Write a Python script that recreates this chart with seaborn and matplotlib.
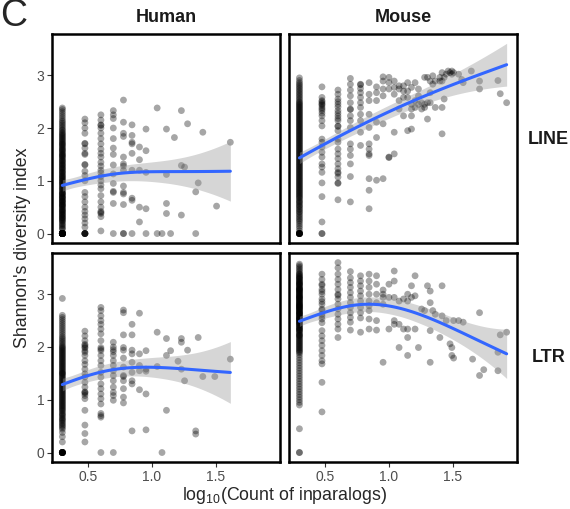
import numpy as np
import pandas as pd
import matplotlib
matplotlib.use("Agg")
import matplotlib.pyplot as plt
import seaborn as sns

# Shannon diversity per gene family, keyed by the number of inparalogs
HUMAN_LINE = {
    2: [0, 0, 0, 0, 0, 0, 0, 0, 0, 0, 0, 0, 0, 0, 0, 0, 0, 0, 0, 0, 0, 0,
        0, 0, 0, 0, 0, 0,
        0.08, 0.1, 0.12, 0.15, 0.17, 0.19, 0.22, 0.24, 0.25, 0.27, 0.29, 0.3,
        0.31, 0.33, 0.35, 0.36, 0.37, 0.39, 0.41, 0.42, 0.43, 0.45, 0.46, 0.48,
        0.5, 0.51, 0.53, 0.54, 0.55, 0.56, 0.58, 0.6, 0.61, 0.62, 0.63, 0.65,
        0.67, 0.68, 0.69, 0.7, 0.72, 0.74, 0.75, 0.76, 0.77, 0.79, 0.81, 0.83,
        0.85, 0.86, 0.88, 0.9, 0.92, 0.94, 0.95, 0.97, 0.99, 1.0,
        1.02, 1.04, 1.05, 1.07, 1.09, 1.1, 1.12, 1.14, 1.16, 1.17, 1.19, 1.21,
        1.23, 1.24, 1.26, 1.28, 1.3, 1.31, 1.33, 1.35, 1.37, 1.38, 1.4, 1.42,
        1.44, 1.46, 1.47, 1.49, 1.5, 1.52, 1.54, 1.56, 1.58, 1.59, 1.61, 1.63,
        1.65, 1.67, 1.69, 1.7, 1.72, 1.74, 1.76, 1.78, 1.8, 1.82, 1.84, 1.86,
        1.88, 1.9, 1.92, 1.95, 1.97, 2.0, 2.03, 2.06, 2.09, 2.12, 2.15, 2.19,
        2.23, 2.27, 2.31, 2.35, 2.38],
    3: [0, 0, 0, 0, 0, 0, 0.12, 0.2, 0.28, 0.35, 0.42, 0.5, 0.6, 0.7, 0.78,
        1.0, 1.1, 1.18, 1.3, 1.31, 1.5, 1.52, 1.62, 1.7, 1.71, 1.9, 2.0, 2.1,
        2.17],
    4: [0.05, 0.32, 0.38, 0.4, 0.42, 0.5, 0.6, 0.72, 0.85, 0.92, 1.0, 1.08,
        1.15, 1.2, 1.28, 1.35, 1.45, 1.52, 1.6, 1.7, 1.8, 1.9, 2.0, 2.05,
        2.06, 2.15, 2.25],
    5: [2.33, 2.25, 2.18, 2.0, 1.8, 1.62, 1.5, 1.3, 1.13, 0.95, 0.8, 0.78,
        0.57, 0],
    6: [2.53, 2.11, 1.9, 1.84, 1.45, 1.32, 1.28, 1.2, 0.9, 0.78, 0.75, 0.55,
        0, 0],
    7: [2.06, 1.86, 1.73, 1.7, 1.52, 1.2, 0.67, 0.63, 0],
    8: [1.64, 1.4, 1.2, 0.5, 0.22],
    9: [1.98, 1.57, 1.16, 0.47, 0],
    11: [2.38, 0],
    12: [0],
    13: [1.98, 1.12, 0.57, 0.38],
    14: [0],
    15: [1.82],
    17: [2.33, 1.29, 0.35],
    18: [1.26],
    19: [2.08],
    22: [0.79, 0],
    23: [0.96],
    25: [1.92],
    32: [0.52],
    41: [1.73],
}

HUMAN_LTR = {
    2: [0, 0, 0, 0, 0, 0, 0, 0, 0, 0, 0, 0, 0.2, 0.3, 0.38, 0.44, 0.47, 0.5,
        0.52, 0.55, 0.57, 0.6, 0.62, 0.64, 0.66, 0.69, 0.71, 0.73, 0.75, 0.78,
        0.8, 0.82, 0.84, 0.86, 0.88, 0.9, 0.92, 0.94, 0.96, 0.98, 1.0, 1.02,
        1.04, 1.06, 1.08, 1.1, 1.12, 1.14, 1.16, 1.18, 1.2, 1.22, 1.24, 1.26,
        1.28, 1.3, 1.32, 1.34, 1.36, 1.38, 1.4, 1.42, 1.44, 1.46, 1.48, 1.5,
        1.5, 1.52, 1.54, 1.56, 1.58, 1.6, 1.62, 1.64, 1.66, 1.68, 1.7, 1.72,
        1.74, 1.76, 1.78, 1.8, 1.82, 1.84, 1.86, 1.88, 1.9, 1.92, 1.94, 1.96,
        1.98, 2.0, 2.02, 2.05, 2.08, 2.11, 2.14, 2.17, 2.2, 2.24, 2.28, 2.32,
        2.36, 2.4, 2.44, 2.48, 2.52, 2.56, 2.6, 2.92],
    3: [2.3, 2.21, 2.12, 2.05, 2.03, 2.0, 1.98, 1.93, 1.9, 1.84, 1.74, 1.67,
        1.58, 1.49, 1.43, 1.33, 1.24, 1.15, 1.14, 1.12, 1.08, 1.02, 0.8, 0.52,
        0.36, 0.2],
    4: [2.75, 2.69, 2.59, 2.5, 2.43, 2.34, 2.25, 2.12, 1.99, 1.96, 1.93, 1.84,
        1.74, 1.65, 1.52, 1.43, 1.3, 1.21, 1.11, 1.02, 0.92, 0.74, 0.7, 0.67,
        0],
    5: [2.09, 2.0, 1.95, 1.91, 1.84, 1.74, 1.65, 1.55, 1.46, 1.36, 1.24, 1.14,
        1.08, 0.99, 0],
    6: [2.7, 2.65, 2.23, 1.99, 1.94, 1.79, 1.62, 1.46, 1.44, 1.36, 1.21, 1.05,
        0.94],
    7: [2.43, 2.23, 1.94, 1.87, 1.71, 1.52, 1.36, 1.3, 0.41],
    8: [2.64, 1.87, 1.65, 1.55, 1.19],
    9: [1.93, 1.58, 1.54, 1.11, 0.43],
    11: [2.28, 1.63],
    12: [0],
    13: [2.16, 1.84, 0.8],
    14: [1.93],
    16: [1.73],
    17: [2.16, 2.09, 1.58],
    18: [1.36],
    19: [1.94],
    22: [0.41, 0.35],
    23: [2.18],
    25: [1.44],
    31: [1.44],
    41: [1.77],
}

MOUSE_LINE = {
    2: [0, 0, 0, 0, 0, 0, 0, 0, 0, 0.05, 0.1, 0.14, 0.18, 0.22,
        0.25, 0.28, 0.31, 0.34, 0.37, 0.4, 0.42, 0.45, 0.47, 0.5, 0.52, 0.54,
        0.57, 0.59, 0.61, 0.63, 0.66, 0.68, 0.7, 0.72, 0.74, 0.76, 0.78, 0.8,
        0.82, 0.84, 0.86, 0.88, 0.9, 0.92, 0.94, 0.96, 0.98, 1.0, 1.02, 1.04,
        1.06, 1.08, 1.1, 1.12, 1.14, 1.16, 1.18, 1.2, 1.22, 1.24, 1.26, 1.28,
        1.3, 1.32, 1.34, 1.36, 1.38, 1.4, 1.42, 1.44, 1.46, 1.48, 1.5, 1.52,
        1.54, 1.56, 1.58, 1.6, 1.62, 1.64, 1.66, 1.68, 1.7, 1.72, 1.74, 1.76,
        1.78, 1.8, 1.82, 1.84, 1.86, 1.88, 1.9, 1.92, 1.94, 1.96, 1.98, 2.0,
        2.02, 2.04, 2.06, 2.08, 2.1, 2.12, 2.14, 2.16, 2.18, 2.2, 2.22, 2.24,
        2.26, 2.28, 2.3, 2.32, 2.34, 2.36, 2.38, 2.4, 2.42, 2.44, 2.46, 2.48,
        2.5, 2.53, 2.56, 2.59, 2.62, 2.65, 2.68, 2.71, 2.74, 2.77, 2.8, 2.83,
        2.86, 2.9, 2.95],
    3: [2.78, 2.58, 2.52, 2.5, 2.47, 2.45, 2.43, 2.39, 2.36, 2.33, 2.28, 2.23,
        2.14, 2.04, 1.79, 1.73, 1.64, 1.54, 1.45, 1.32, 1.26, 1.16, 0.96, 0.7,
        0.22, 0, 0],
    4: [2.72, 2.64, 2.55, 2.5, 2.45, 2.4, 2.33, 2.28, 2.23, 2.18, 2.14, 2.04,
        2.03, 1.95, 1.79, 1.73, 1.6, 1.51, 1.42, 1.32, 1.23, 1.16, 1.14, 1.07,
        0.96, 0.95, 0.64],
    5: [2.94, 2.83, 2.72, 2.61, 2.48, 2.36, 2.35, 2.23, 2.14, 2.01, 1.7, 1.6,
        1.48, 1.32, 1.08, 0.6],
    6: [2.83, 2.82, 2.75, 2.67, 2.58, 2.48, 2.39, 2.26, 2.14, 1.92, 1.67],
    7: [2.86, 2.64, 2.52, 2.26, 2.01, 1.7, 1.6, 1.51, 1.48, 1.04, 0.82, 0.47],
    8: [2.78, 2.67, 2.52, 2.11, 1.82, 1.01],
    9: [2.97, 2.89, 2.74, 2.61, 2.08, 1.04],
    10: [2.96, 2.86, 2.74, 1.45, 1.44],
    11: [2.89, 2.77, 2.64, 1.92, 1.51],
    12: [2.8, 2.74, 2.52, 2.36],
    13: [2.8, 2.7, 2.58, 2.23],
    14: [2.86, 2.7, 2.58, 1.95],
    15: [2.77, 2.45, 2.36, 2.23, 1.98],
    16: [2.86, 2.52, 2.39],
    17: [2.74, 2.61, 2.45],
    18: [2.48, 2.36],
    19: [2.96, 2.45, 2.39],
    20: [2.96, 2.48, 2.17],
    21: [2.89, 2.67, 2.48],
    22: [2.99, 2.83],
    23: [2.89, 2.39],
    25: [2.96, 2.89],
    26: [3.05, 2.89, 2.39, 1.89],
    27: [2.96, 2.55],
    28: [3.02],
    29: [3.08],
    30: [3.05],
    31: [3.08, 3.02],
    32: [3.05],
    35: [3.02],
    37: [2.92],
    38: [2.86],
    44: [3.08],
    51: [2.89, 2.74],
    71: [2.9],
    74: [2.65],
    83: [2.48],
}

MOUSE_LTR = {
    2: [0, 0, 0.45, 0.9, 0.95, 1.0, 1.05, 1.1, 1.15, 1.2, 1.25, 1.3, 1.35,
        1.4, 1.45, 1.5, 1.55, 1.6, 1.65, 1.7, 1.75, 1.8, 1.85, 1.89,
        1.91, 1.93, 1.95, 1.97, 1.99, 2.01, 2.03, 2.05, 2.07, 2.09, 2.11, 2.13,
        2.15, 2.17, 2.19, 2.21, 2.23, 2.25, 2.27, 2.29, 2.31, 2.33, 2.35, 2.37,
        2.39, 2.41, 2.43, 2.45, 2.46, 2.48, 2.5, 2.51, 2.53, 2.55, 2.56, 2.58,
        2.6, 2.61, 2.63, 2.65, 2.66, 2.68, 2.7, 2.71, 2.73, 2.75, 2.76, 2.78,
        2.8, 2.81, 2.83, 2.85, 2.86, 2.88, 2.9, 2.91, 2.93, 2.95, 2.96, 2.98,
        3.0, 3.01, 3.03, 3.05, 3.06, 3.08, 3.1, 3.11, 3.13, 3.15, 3.17, 3.19,
        3.21, 3.23, 3.25, 3.27, 3.29, 3.31, 3.33, 3.36, 3.39, 3.42, 3.45,
        3.48, 3.51, 3.54, 3.57,
        2.22, 2.32, 2.42, 2.52, 2.57, 2.62, 2.67, 2.72, 2.77, 2.82, 2.87, 2.92,
        2.97, 3.02, 3.07, 3.12, 3.18, 3.24, 3.3, 3.38, 2.47, 2.64, 2.79, 2.94,
        3.09, 3.2, 3.34, 2.36, 2.54, 2.74],
    3: [3.38, 3.28, 3.19, 3.17, 3.09, 3.05, 3.0, 2.91, 2.86, 2.81, 2.72, 2.7,
        2.62, 2.58, 2.53, 2.46, 2.31, 2.21, 2.12, 2.03, 1.93, 1.84, 1.74, 1.68,
        1.33, 0.77],
    4: [3.6, 3.5, 3.38, 3.28, 3.19, 3.09, 3.0, 2.98, 2.91, 2.81, 2.72, 2.62,
        2.53, 2.43, 2.34, 2.18],
    5: [3.43, 3.31, 3.22, 3.13, 3.03, 2.94, 2.84, 2.75, 2.65, 2.56, 2.47, 2.32],
    6: [3.35, 3.25, 3.16, 3.06, 2.97, 2.87, 2.75, 2.65, 2.55, 2.28],
    7: [3.38, 3.25, 3.13, 3.0, 2.87, 2.78, 2.69, 2.53, 2.34],
    8: [3.35, 3.19, 3.0, 2.84, 2.5, 2.32],
    9: [3.08, 3.0, 2.94, 2.81, 1.71],
    10: [3.19, 2.94, 2.34],
    11: [3.44, 3.25, 2.94, 2.5, 2.43],
    12: [2.87, 2.43, 1.99],
    13: [2.91, 2.34],
    14: [3.0, 2.87, 2.34, 2.18, 1.84],
    15: [3.16, 2.94],
    16: [3.35, 2.97, 2.34],
    17: [1.99],
    18: [2.72],
    19: [2.69],
    20: [3.16],
    21: [3.06, 2.84, 2.31, 1.71],
    22: [2.69],
    23: [2.62],
    25: [2.18],
    26: [3.16, 2.59],
    28: [2.5],
    30: [2.06],
    31: [1.99, 1.84],
    32: [2.5, 1.79],
    35: [2.5],
    38: [2.47],
    45: [1.77],
    51: [2.65, 1.46],
    55: [1.57],
    71: [1.9, 1.55],
    74: [2.23],
    83: [2.28],
}

SPECIES = ["Human", "Mouse"]
FAMILIES = ["LINE", "LTR"]
PANELS = {
    ("Human", "LINE"): HUMAN_LINE,
    ("Mouse", "LINE"): MOUSE_LINE,
    ("Human", "LTR"): HUMAN_LTR,
    ("Mouse", "LTR"): MOUSE_LTR,
}

rows = []
for (sp, fam), table in PANELS.items():
    for count, values in table.items():
        for v in values:
            rows.append((sp, fam, count, v))
df = pd.DataFrame(rows, columns=["species", "family", "count", "shannon"])
df["log_count"] = np.log10(df["count"])


def bspline_basis(x, xl, xr, nseg=7, deg=3):
    """Cubic B-spline basis on equally spaced knots (P-spline style)."""
    x = np.asarray(x, float)
    dx = (xr - xl) / nseg
    t = xl + dx * np.arange(-deg, nseg + deg + 1)
    xc = np.clip(x, xl, xr - 1e-9 * dx)
    B = ((xc[:, None] >= t[None, :-1]) & (xc[:, None] < t[None, 1:])).astype(float)
    for k in range(1, deg + 1):
        m = B.shape[1]
        left = (xc[:, None] - t[None, :m - 1]) / (k * dx) * B[:, :m - 1]
        right = (t[None, k + 1:k + m] - xc[:, None]) / (k * dx) * B[:, 1:m]
        B = left + right
    return B


def smooth_fit(x, y, grid, nseg=7):
    """Penalised regression spline, smoothing chosen by GCV, with
    Bayesian pointwise standard errors."""
    x = np.asarray(x, float)
    y = np.asarray(y, float)
    n = len(x)
    xl, xr = x.min(), x.max()
    B = bspline_basis(x, xl, xr, nseg)
    nb = B.shape[1]
    D = np.diff(np.eye(nb), n=2, axis=0)
    P = D.T @ D
    BtB = B.T @ B
    Bty = B.T @ y
    best = None
    for lam in np.logspace(-4, 5, 91):
        M = BtB + lam * P
        Minv = np.linalg.inv(M)
        coef = Minv @ Bty
        edf = np.trace(Minv @ BtB)
        rss = np.sum((y - B @ coef) ** 2)
        gcv = n * rss / (n - edf) ** 2
        if best is None or gcv < best[0]:
            best = (gcv, coef, Minv, rss, edf)
    _, coef, Minv, rss, edf = best
    sigma2 = rss / (n - edf)
    G = bspline_basis(grid, xl, xr, nseg)
    fit = G @ coef
    se = np.sqrt(np.einsum("ij,jk,ik->i", G, Minv * sigma2, G))
    return fit, se


sns.set_theme(style="white")
plt.rcParams["font.family"] = ["Liberation Sans", "DejaVu Sans"]
plt.rcParams["mathtext.fontset"] = "custom"
plt.rcParams["mathtext.rm"] = "Liberation Sans"

fig, axes = plt.subplots(2, 2, figsize=(5.7, 5.09), dpi=100,
                         sharex=True, sharey=True)
fig.subplots_adjust(left=0.0912, right=0.907, top=0.933, bottom=0.0923,
                    wspace=0.04, hspace=0.048)

for i, fam in enumerate(FAMILIES):
    for j, sp in enumerate(SPECIES):
        ax = axes[i, j]
        sub = df[(df["species"] == sp) & (df["family"] == fam)]
        sns.scatterplot(data=sub, x="log_count", y="shannon", color="black",
                        alpha=0.35, s=24, edgecolor="none", linewidth=0,
                        legend=False, ax=ax, zorder=2)
        grid = np.linspace(sub["log_count"].min(), sub["log_count"].max(), 80)
        fit, se = smooth_fit(sub["log_count"], sub["shannon"], grid)
        ax.fill_between(grid, fit - 1.97 * se, fit + 1.97 * se,
                        color="#999999", alpha=0.4, linewidth=0, zorder=3)
        sns.lineplot(x=grid, y=fit, color="#3366FF", linewidth=2.2, ax=ax,
                     zorder=4)

        ax.set_xlim(0.22, 2.0)
        ax.set_ylim(-0.18, 3.78)
        ax.set_xlabel("")
        ax.set_ylabel("")
        for spine in ax.spines.values():
            spine.set_visible(True)
            spine.set_color("black")
            spine.set_linewidth(1.8)
        ax.set_xticks([0.5, 1.0, 1.5], labels=["0.5", "1.0", "1.5"])
        ax.set_yticks([0, 1, 2, 3], labels=["0", "1", "2", "3"])
        ax.tick_params(axis="both", which="major", length=3.5, width=0.8,
                       color="#333333", labelcolor="#4d4d4d", labelsize=10,
                       pad=2, direction="out")
        ax.tick_params(axis="x", bottom=(i == 1), labelbottom=(i == 1))
        ax.tick_params(axis="y", left=(j == 0), labelleft=(j == 0))

# facet strips
fig.text(0.291, 0.966, "Human", ha="center", va="center",
         fontsize=13, fontweight="bold", color="#1a1a1a")
fig.text(0.707, 0.966, "Mouse", ha="center", va="center",
         fontsize=13, fontweight="bold", color="#1a1a1a")
fig.text(0.962, 0.726, "LINE", ha="center", va="center",
         fontsize=13, fontweight="bold", color="#1a1a1a")
fig.text(0.962, 0.297, "LTR", ha="center", va="center",
         fontsize=13, fontweight="bold", color="#1a1a1a")

# shared axis titles
fig.text(0.499, 0.026, r"log$_{\mathrm{10}}$(Count of inparalogs)",
         ha="center", va="center", fontsize=12.8)
fig.text(0.04, 0.513, "Shannon's diversity index", ha="center", va="center",
         rotation=90, fontsize=12.8)

# panel tag
fig.text(0.0, 0.948, "C", ha="left", va="baseline", fontsize=27)

fig.savefig("out.png", dpi=100)
